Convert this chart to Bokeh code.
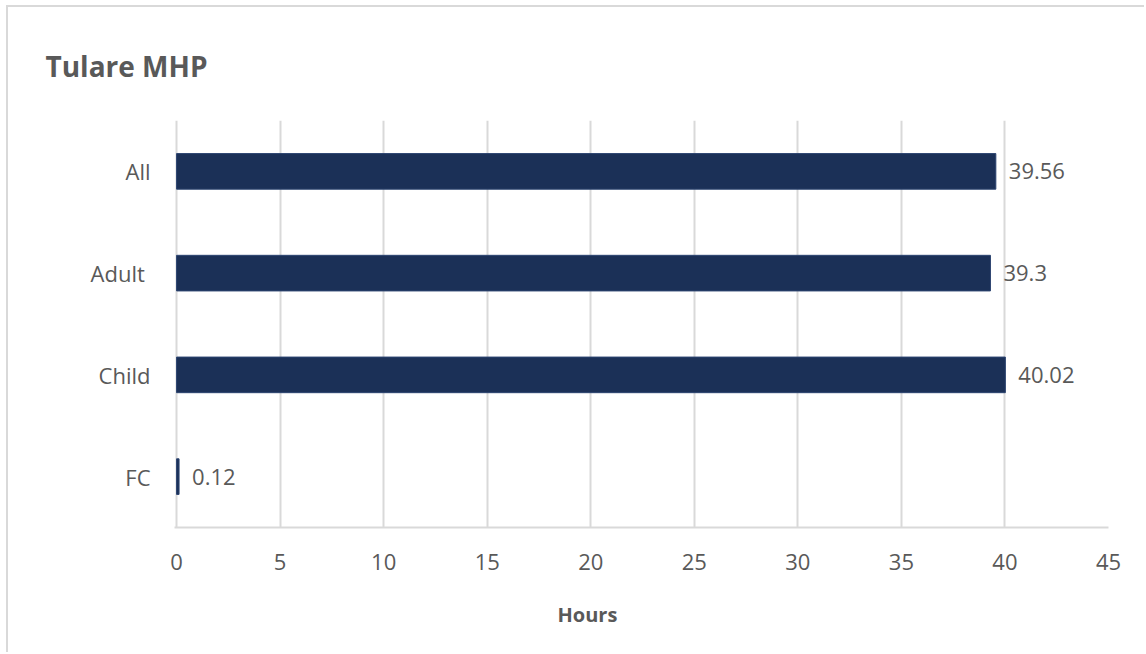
from bokeh.plotting import figure
from bokeh.models import ColumnDataSource, LabelSet, Title, FixedTicker, Range1d, FactorRange
from bokeh.core.properties import value
from bokeh.embed import file_html
from bokeh.resources import INLINE

# Hours per group
groups = ["All", "Adult ", "Child", "FC"]
hours = [39.56, 39.3, 40.02, 0.12]
hour_labels = ["39.56", "39.3", "40.02", "0.12"]
x_ticks = [0, 5, 10, 15, 20, 25, 30, 35, 40, 45]

FONT = "Open Sans"
TEXT = "#595959"
GRID = "#d9d9d9"
BAR = "#1b3057"

src = ColumnDataSource(dict(group=groups, hours=hours, label=hour_labels))

p = figure(
    width=1138, height=647,
    y_range=FactorRange(*groups[::-1]),
    x_range=Range1d(-0.1, 45),
    output_backend="svg", toolbar_location=None,
    min_border_left=166, min_border_right=38,
    min_border_top=113, min_border_bottom=127,
)
# light chart-area border along the top and left edges
p.styles = {
    "margin-left": "6px", "margin-top": "5px",
    "border-left": "2px solid #d9d9d9", "border-top": "2px solid #d9d9d9",
}
p.outline_line_color = None
p.background_fill_color = "white"
p.border_fill_color = "white"

# chart title
p.title.text = "Tulare MHP"
p.title.align = "left"
p.title.offset = -129
p.title.standoff = 71
p.title.text_font = FONT
p.title.text_font_size = "28px"
p.title.text_font_style = "bold"
p.title.text_color = TEXT

p.hbar(y="group", right="hours", left=0, height=0.35, source=src,
       fill_color=BAR, line_color="#2c4470", line_width=1)

p.add_layout(LabelSet(x="hours", y="group", text="label", source=src,
                      x_offset=13, y_offset=0, text_baseline="middle",
                      text_font=value(FONT), text_font_size=value("22px"),
                      text_color=TEXT))

# axes
p.xaxis.ticker = FixedTicker(ticks=x_ticks)
p.xaxis.axis_line_color = GRID
p.xaxis.axis_line_width = 2
p.xaxis.major_tick_line_color = None
p.xaxis.minor_tick_line_color = None
p.xaxis.major_label_standoff = 20
p.xaxis.major_label_text_font = FONT
p.xaxis.major_label_text_font_size = "22px"
p.xaxis.major_label_text_color = TEXT

p.yaxis.axis_line_color = None
p.yaxis.major_tick_line_color = None
p.yaxis.minor_tick_line_color = None
p.yaxis.major_label_standoff = 18
p.yaxis.major_label_text_font = FONT
p.yaxis.major_label_text_font_size = "22px"
p.yaxis.major_label_text_color = TEXT

p.xgrid.grid_line_color = GRID
p.xgrid.grid_line_width = 2
p.ygrid.grid_line_color = None

# axis title under the tick labels
p.add_layout(Title(text="Hours", align="left", offset=383, standoff=52,
                   text_font=FONT, text_font_size="20px",
                   text_font_style="bold", text_color=TEXT), "below")

open("out.html", "w").write(file_html(p, INLINE))
